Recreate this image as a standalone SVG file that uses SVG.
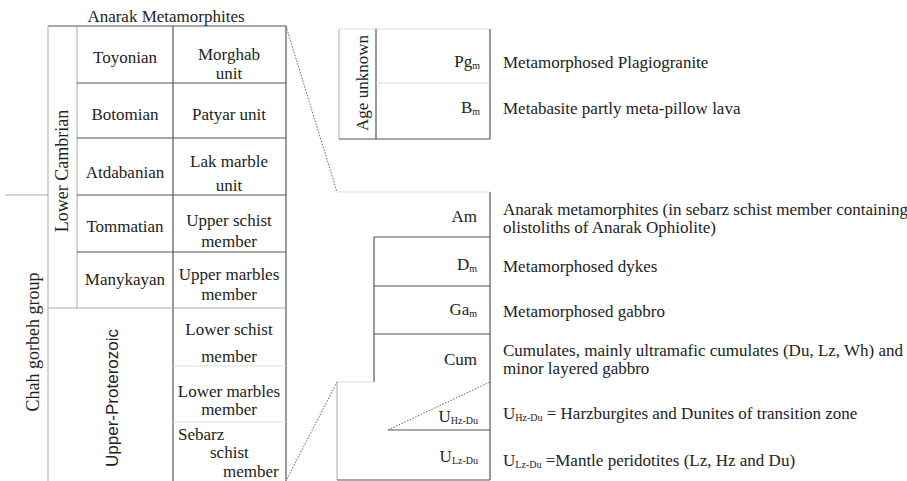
<svg xmlns="http://www.w3.org/2000/svg" width="907" height="481" viewBox="0 0 907 481">
<style>
text{font-family:"Liberation Serif","Times New Roman",serif;font-size:17px;fill:#222}
.c{text-anchor:middle}
.r{text-anchor:end}
.rot{font-size:18px}
.sans{font-family:"Liberation Sans",Arial,sans-serif;font-size:17px}
.d{stroke:#555;stroke-width:1.2;fill:none}
.g{stroke:#aaa;stroke-width:1;fill:none}
.f{stroke:#ddd;stroke-width:1;fill:none}
.dot{stroke:#666;stroke-width:1;stroke-dasharray:1.5 1.5;fill:none}
.sub{font-size:10px}
</style>
<rect width="907" height="481" fill="#fff"/>

<g id="left-table">
  <text x="166" y="22" class="c">Anarak Metamorphites</text>
  <line class="d" x1="48" y1="26" x2="286" y2="26"/>
  <line class="g" x1="48" y1="26" x2="48" y2="481"/>
  <line class="g" x1="77" y1="26" x2="77" y2="308"/>
  <line class="d" x1="173" y1="26" x2="173" y2="481"/>
  <line class="d" x1="286" y1="26" x2="286" y2="481"/>
  <line class="g" x1="5" y1="195" x2="48" y2="195"/>
  <line class="d" x1="77" y1="83" x2="286" y2="83"/>
  <line class="d" x1="77" y1="138" x2="286" y2="138"/>
  <line class="d" x1="77" y1="195" x2="286" y2="195"/>
  <line class="d" x1="77" y1="252" x2="286" y2="252"/>
  <line class="g" x1="48" y1="308" x2="286" y2="308"/>
  <line class="f" x1="173" y1="366" x2="286" y2="366"/>
  <line class="f" x1="173" y1="422" x2="286" y2="422"/>
</g>

<g id="group-chah">
  <text class="c rot" transform="translate(39,342) rotate(-90)">Chah gorbeh group</text>
</g>
<g id="group-lower-cambrian">
  <text class="c rot" transform="translate(68,171) rotate(-90)">Lower Cambrian</text>
</g>
<g id="group-upper-proterozoic">
  <text class="c sans" transform="translate(118,398) rotate(-90)">Upper-Proterozoic</text>
</g>

<g id="row-toyonian">
  <text x="125" y="63" class="c">Toyonian</text>
  <text x="229" y="60" class="c">Morghab</text>
  <text x="229" y="79" class="c">unit</text>
</g>
<g id="row-botomian">
  <text x="125" y="120" class="c">Botomian</text>
  <text x="229" y="120" class="c">Patyar unit</text>
</g>
<g id="row-atdabanian">
  <text x="125" y="178" class="c">Atdabanian</text>
  <text x="229" y="167" class="c">Lak marble</text>
  <text x="229" y="191" class="c">unit</text>
</g>
<g id="row-tommatian">
  <text x="125" y="232" class="c">Tommatian</text>
  <text x="229" y="226" class="c">Upper schist</text>
  <text x="229" y="247" class="c">member</text>
</g>
<g id="row-manykayan">
  <text x="125" y="285" class="c">Manykayan</text>
  <text x="229" y="280" class="c">Upper marbles</text>
  <text x="229" y="300" class="c">member</text>
</g>
<g id="row-lower-schist">
  <text x="229" y="335" class="c">Lower schist</text>
  <text x="229" y="362" class="c">member</text>
</g>
<g id="row-lower-marbles">
  <text x="229" y="397" class="c">Lower marbles</text>
  <text x="229" y="415" class="c">member</text>
</g>
<g id="row-sebarz">
  <text x="178" y="440">Sebarz</text>
  <text x="210" y="458">schist</text>
  <text x="223" y="477">member</text>
</g>

<g id="age-unknown-table">
  <line class="f" x1="339" y1="29" x2="490" y2="29"/>
  <line class="g" x1="339" y1="29" x2="339" y2="139"/>
  <line class="d" x1="376" y1="29" x2="376" y2="139"/>
  <line class="d" x1="490" y1="29" x2="490" y2="139"/>
  <line class="d" x1="339" y1="139" x2="490" y2="139"/>
  <line class="f" x1="376" y1="83" x2="490" y2="83"/>
  <text class="c" transform="translate(368,83) rotate(-90)">Age unknown</text>
</g>
<g id="row-pg">
  <text x="480" y="67" class="r">Pg<tspan class="sub" dy="2">m</tspan></text>
  <text x="503" y="68">Metamorphosed Plagiogranite</text>
</g>
<g id="row-b">
  <text x="480" y="113" class="r">B<tspan class="sub" dy="2">m</tspan></text>
  <text x="503" y="114">Metabasite partly meta-pillow lava</text>
</g>

<g id="ophiolite-table">
  <line class="f" x1="337" y1="192" x2="490" y2="192"/>
  <line class="d" x1="490" y1="192" x2="490" y2="480"/>
  <line class="d" x1="374" y1="237" x2="374" y2="382"/>
  <line class="d" x1="374" y1="237" x2="490" y2="237"/>
  <line class="d" x1="374" y1="286" x2="490" y2="286"/>
  <line class="d" x1="374" y1="334" x2="490" y2="334"/>
  <line class="f" x1="337" y1="382" x2="374" y2="382"/>
  <line class="g" x1="337" y1="382" x2="337" y2="480"/>
  <line class="d" x1="388" y1="430" x2="490" y2="430"/>
  <line class="d" x1="337" y1="480" x2="490" y2="480"/>
  <line class="dot" x1="388" y1="430" x2="490" y2="382"/>
</g>
<g id="row-am">
  <text x="477" y="222" class="r">Am</text>
  <text x="503" y="215">Anarak metamorphites (in sebarz schist member containing</text>
  <text x="503" y="233">olistoliths of Anarak Ophiolite)</text>
</g>
<g id="row-dm">
  <text x="477" y="270" class="r">D<tspan class="sub" dy="2">m</tspan></text>
  <text x="503" y="272">Metamorphosed dykes</text>
</g>
<g id="row-gam">
  <text x="477" y="315" class="r">Ga<tspan class="sub" dy="2">m</tspan></text>
  <text x="503" y="317">Metamorphosed gabbro</text>
</g>
<g id="row-cum">
  <text x="477" y="365" class="r">Cum</text>
  <text x="503" y="356">Cumulates, mainly ultramafic cumulates (Du, Lz, Wh) and</text>
  <text x="503" y="374">minor layered gabbro</text>
</g>
<g id="row-uhz">
  <text x="478" y="422" class="r">U<tspan class="sub" dy="2">Hz-Du</tspan></text>
  <text x="503" y="419">U<tspan class="sub" dy="2">Hz-Du</tspan><tspan dy="-2"> = Harzburgites and Dunites of transition zone</tspan></text>
</g>
<g id="row-ulz">
  <text x="478" y="462" class="r">U<tspan class="sub" dy="2">Lz-Du</tspan></text>
  <text x="503" y="466">U<tspan class="sub" dy="2">Lz-Du</tspan><tspan dy="-2"> =Mantle peridotites (Lz, Hz and Du)</tspan></text>
</g>

<g id="connectors">
  <line class="dot" x1="286" y1="26" x2="337" y2="192"/>
  <line class="dot" x1="287" y1="479" x2="337" y2="382"/>
</g>
</svg>
